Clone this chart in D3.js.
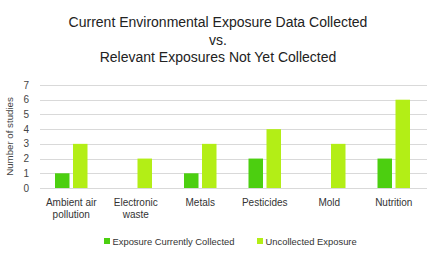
<!DOCTYPE html>
<html><head><meta charset="utf-8">
<script src="https://cdn.jsdelivr.net/npm/d3@7"></script>
<style>body{margin:0;background:#fff}svg{display:block}</style>
</head><body>
<svg id="c" width="446" height="256"></svg>
<script>
const categories = [["Ambient air","pollution"],["Electronic","waste"],["Metals"],["Pesticides"],["Mold"],["Nutrition"]];
const seriesNames = ["Exposure Currently Collected","Uncollected Exposure"];
const collected = [1, 0, 1, 2, 0, 2];
const uncollected = [3, 2, 3, 4, 3, 6];
const yTicks = [0,1,2,3,4,5,6,7];
const titleLines = ["Current Environmental Exposure Data Collected","vs.","Relevant Exposures Not Yet Collected"];
const colors = ["#4ccf10","#b3ee16"];

const svg = d3.select("#c");
const font = "'Liberation Sans', Arial, Helvetica, sans-serif";
const m = {left:40, right:19, top:85, bottom:68};
const W = 446, H = 256;
const x = d3.scaleBand().domain(d3.range(categories.length)).range([m.left, W-m.right]).paddingInner(0).paddingOuter(0);
const y = d3.scaleLinear().domain([0,7]).range([H-m.bottom, m.top]);

// title
svg.append("g").selectAll("text").data(titleLines).join("text")
  .attr("x", 218).attr("y", (d,i)=>27 + i*17.5)
  .attr("text-anchor","middle").attr("font-family",font).attr("font-size",14).attr("fill","#222")
  .text(d=>d);

// grid
svg.append("g").selectAll("line").data(yTicks).join("line")
  .attr("x1", m.left).attr("x2", W-m.right)
  .attr("y1", d=>Math.round(y(d))+0.5).attr("y2", d=>Math.round(y(d))+0.5)
  .attr("stroke","#d9d9d9").attr("stroke-width",1);

// y tick labels
svg.append("g").selectAll("text").data(yTicks).join("text")
  .attr("x", 29).attr("y", d=>y(d)+3.5).attr("text-anchor","end")
  .attr("font-family",font).attr("font-size",10).attr("fill","#444").text(d=>d);

// y title
svg.append("text").attr("transform","translate(13,"+((y(0)+y(7))/2)+") rotate(-90)")
  .attr("text-anchor","middle").attr("font-family",font).attr("font-size",9.7).attr("fill","#444")
  .text("Number of studies");

// bars
const bw = 14.5, gap = 3.5;
const series = [collected, uncollected];
series.forEach((vals, s) => {
  svg.append("g").selectAll("rect").data(vals).join("rect")
    .attr("x", (d,i)=> x(i) + x.bandwidth()/2 - gap/2 - bw + s*(bw+gap) - 1)
    .attr("width", bw)
    .attr("y", d=>y(d)).attr("height", d=>y(0)-y(d))
    .attr("fill", colors[s]);
});

// x labels
const xl = svg.append("g").selectAll("text").data(categories).join("text")
  .attr("x",(d,i)=>x(i)+x.bandwidth()/2 - 1).attr("y", 206)
  .attr("text-anchor","middle").attr("font-family",font).attr("font-size",10).attr("fill","#333");
xl.selectAll("tspan").data(d=>d).join("tspan")
  .attr("x", function(){return this.parentNode.getAttribute("x");})
  .attr("dy",(d,i)=> i===0?0:12).text(d=>d);

// legend
const legX = [104, 257];
const lg = svg.append("g").selectAll("g").data(seriesNames).join("g")
  .attr("transform",(d,i)=>`translate(${legX[i]},238)`);
lg.append("rect").attr("width",6).attr("height",6).attr("fill",(d,i)=>colors[i]);
lg.append("text").attr("x",8.5).attr("y",6.5).attr("font-family",font).attr("font-size",9.4).attr("fill","#333").text(d=>d);
</script>
</body></html>
